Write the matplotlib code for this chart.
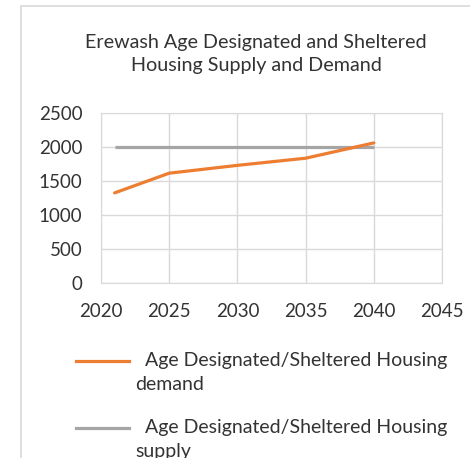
import matplotlib.pyplot as plt
from matplotlib.lines import Line2D
from matplotlib.patches import Rectangle

plt.rcParams['font.family'] = ['Lato', 'DejaVu Sans']

years_demand = [2021, 2025, 2030, 2035, 2040]
demand = [1325, 1615, 1730, 1835, 2060]
years_supply = [2021, 2025, 2030, 2035, 2040]
supply = [2000, 2000, 2000, 2000, 2000]

labels = ['Age Designated/Sheltered Housing\ndemand',
          'Age Designated/Sheltered Housing\nsupply']
colors = ['#ED7D31', '#A5A5A5']
grid_c = '#D9D9D9'
text_c = '#333333'

W, H = 470, 458
fig = plt.figure(figsize=(W / 100, H / 100), dpi=100)

# chart frame (left and top edges visible)
fig.add_artist(Rectangle((21 / W, -0.1), 1.2, 1 - 6 / H + 0.1, transform=fig.transFigure,
                         fill=False, edgecolor=grid_c, linewidth=1.2))

ax = fig.add_axes([101 / W, 1 - 283 / H, (442 - 101) / W, (283 - 113) / H])
ax.plot(years_supply, supply, color=colors[1], linewidth=2.3, solid_capstyle='butt')
ax.plot(years_demand, demand, color=colors[0], linewidth=2.3, solid_capstyle='round')

ax.set_xlim(2020, 2045)
ax.set_ylim(0, 2500)
ax.set_xticks(range(2020, 2046, 5))
ax.set_yticks(range(0, 2501, 500))
ax.grid(True, color=grid_c, linewidth=1)
for s in ax.spines.values():
    s.set_color(grid_c)
ax.tick_params(length=0, colors=text_c, labelsize=13.5)
ax.tick_params(axis='x', pad=14.5)
ax.tick_params(axis='y', pad=13.5)

fig.text(256 / W, 1 - 54 / H, 'Erewash Age Designated and Sheltered\nHousing Supply and Demand',
         ha='center', va='center', fontsize=14.2, color=text_c, linespacing=1.45)

# legend
for i, (lab, c) in enumerate(zip(labels, colors)):
    y = 360.5 + i * 67.5
    fig.add_artist(Line2D([76 / W, 129 / W], [1 - y / H, 1 - y / H], transform=fig.transFigure,
                          color=c, linewidth=2.3))
    first, second = lab.split('\n')
    fig.text(145 / W, 1 - y / H, first, ha='left', va='center', fontsize=14, color=text_c)
    fig.text(135 / W, 1 - (y + 24) / H, second, ha='left', va='center', fontsize=14, color=text_c)

fig.savefig('out.png', dpi=100, facecolor='white')
